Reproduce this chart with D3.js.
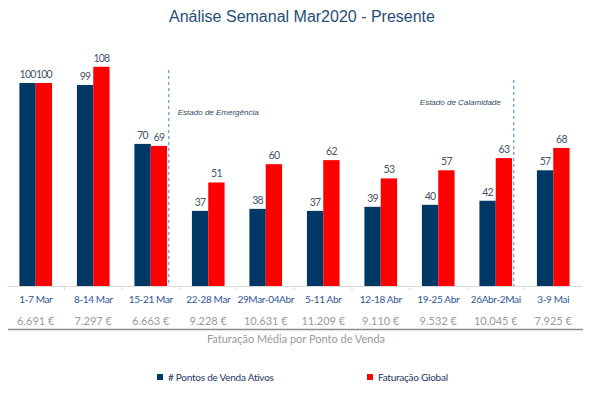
<!DOCTYPE html>
<html><head><meta charset="utf-8">
<script src="https://cdn.jsdelivr.net/npm/d3@7"></script>
<style>body{margin:0;background:#fff;} svg{display:block;}</style>
</head><body>
<svg id="c" width="598" height="395"></svg>
<script>
const categories = ["1-7 Mar","8-14 Mar","15-21 Mar","22-28 Mar","29Mar-04Abr","5-11 Abr","12-18 Abr","19-25 Abr","26Abr-2Mai","3-9 Mai"];
const pontosAtivos = [100,99,70,37,38,37,39,40,42,57];
const faturacaoGlobal = [100,108,69,51,60,62,53,57,63,68];
const faturacaoMedia = ["6.691 €","7.297 €","6.663 €","9.228 €","10.631 €","11.209 €","9.110 €","9.532 €","10.045 €","7.925 €"];
const seriesNames = ["# Pontos de Venda Ativos","Faturação Global"];
const seriesColors = ["#003865","#ff0000"];
const events = [{after:"15-21 Mar", label:"Estado de Emergência", top:70},{after:"26Abr-2Mai", label:"Estado de Calamidade", top:80}];

const svg = d3.select("#c");
const font = "Lato, 'Open Sans', sans-serif";
const x0 = 7, x1 = 582, baseY = 286;
const x = d3.scaleBand().domain(categories).range([x0,x1]).paddingInner(0).paddingOuter(0);
const y = d3.scaleLinear().domain([0,100]).range([baseY, baseY-203]);
const xs = d3.scaleBand().domain([0,1]).range([0,x.bandwidth()]).paddingInner(0).paddingOuter(0.76);

svg.append("text").attr("x",302).attr("y",22).attr("text-anchor","middle")
  .attr("font-family","'Liberation Sans', Arial, sans-serif").attr("font-size",16)
  .attr("fill","#1f4e79").text("Análise Semanal Mar2020 - Presente");

const data = categories.map((c,i)=>({c, v:[pontosAtivos[i], faturacaoGlobal[i]]}));
const g = svg.selectAll("g.grp").data(data).join("g").attr("class","grp")
  .attr("transform",d=>`translate(${x(d.c)},0)`);
g.selectAll("rect").data(d=>d.v.map((v,k)=>({v,k}))).join("rect")
  .attr("x",d=>xs(d.k)).attr("width",xs.bandwidth())
  .attr("y",d=>y(d.v)).attr("height",d=>baseY-y(d.v))
  .attr("fill",d=>seriesColors[d.k]);
g.selectAll("text.val").data(d=>d.v.map((v,k)=>({v,k}))).join("text").attr("class","val")
  .attr("x",d=>xs(d.k)+xs.bandwidth()/2).attr("y",d=>y(d.v)-5)
  .attr("text-anchor","middle").attr("font-family",font).attr("font-size",10.5)
  .attr("letter-spacing",-0.75)
  .attr("fill","#44546a").text(d=>d.v);

// axis
const ax = svg.append("g").attr("transform",`translate(0,${baseY})`)
  .call(d3.axisBottom(x).tickSize(0).tickPadding(10));
ax.select(".domain").attr("stroke","#d9d9d9");
ax.selectAll(".tick text").attr("font-family",font).attr("font-size",10).attr("letter-spacing",-0.35).attr("fill","#2f5597");
ax.selectAll(".tick line").remove();
ax.selectAll("line.sep").data(categories.slice(1)).join("line").attr("class","sep")
  .attr("x1",d=>x(d)).attr("x2",d=>x(d)).attr("y1",0).attr("y2",4).attr("stroke","#d9d9d9");

// euro values
svg.selectAll("text.eur").data(categories).join("text").attr("class","eur")
  .attr("x",d=>x(d)+x.bandwidth()/2).attr("y",325).attr("text-anchor","middle")
  .attr("font-family",font).attr("font-size",11).attr("fill","#9a9a9a")
  .text((d,i)=>faturacaoMedia[i]);
svg.append("line").attr("x1",x0+1).attr("x2",x1+1).attr("y1",329.5).attr("y2",329.5)
  .attr("stroke","#8c8c8c").attr("stroke-width",1.5);
svg.append("text").attr("x",296).attr("y",343).attr("text-anchor","middle")
  .attr("font-family",font).attr("font-size",11).attr("fill","#9a9a9a")
  .text("Faturação Média por Ponto de Venda");

// event lines
events.forEach((e,i)=>{
  const ex = x(e.after)+x.bandwidth()/2+18;
  svg.append("line").attr("x1",ex).attr("x2",ex).attr("y1",e.top).attr("y2",baseY)
    .attr("stroke","#5b9bd5").attr("stroke-width",1.2).attr("stroke-dasharray","3,3");
  const t = svg.append("text").attr("font-family","'Liberation Sans', Arial, sans-serif")
    .attr("font-size",8).attr("font-style","italic").attr("fill","#2f4a6a").text(e.label);
  if(i===0) t.attr("x",ex+9).attr("y",115);
  else t.attr("x",ex-13).attr("y",105).attr("text-anchor","end");
});

// legend
const legX = [157,367];
seriesNames.forEach((n,k)=>{
  svg.append("rect").attr("x",legX[k]).attr("y",374).attr("width",6).attr("height",6).attr("fill",seriesColors[k]);
  svg.append("text").attr("x",legX[k]+11).attr("y",380.5).attr("font-family",font).attr("font-size",10)
    .attr("letter-spacing",-0.25).attr("fill","#1f3864").text(n);
});
</script>
</body></html>
